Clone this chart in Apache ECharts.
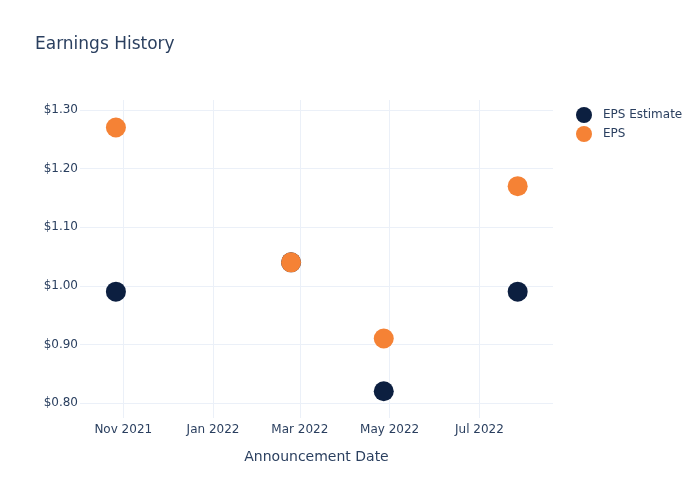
<!DOCTYPE html>
<html><head><meta charset="utf-8">
<script src="https://cdn.jsdelivr.net/npm/echarts@6/dist/echarts.min.js"></script>
<style>html,body{margin:0;padding:0;background:#fff}#c{width:700px;height:500px}</style>
</head><body><div id="c"></div>
<script>
const dates = ['2021-10-27', '2022-02-23', '2022-04-27', '2022-07-27'];
const epsEstimate = [0.99, 1.04, 0.82, 0.99];
const eps = [1.27, 1.04, 0.91, 1.17];
const xTicks = ['2021-11-01', '2022-01-01', '2022-03-01', '2022-05-01', '2022-07-01'];
const yTicks = [0.8, 0.9, 1.0, 1.1, 1.2, 1.3];
const monthNames = ['Jan','Feb','Mar','Apr','May','Jun','Jul','Aug','Sep','Oct','Nov','Dec'];

const ts = d => new Date(d + 'T00:00:00Z').getTime();
const xMin = ts('2021-10-02') + 0.6 * 86400000;
const xMax = ts('2022-08-20');
const xTickVals = xTicks.map(ts);
const font = 'DejaVu Sans, Verdana, sans-serif';
const txt = '#2a3f5f';
const grid = '#ebf0f8';

const chart = echarts.init(document.getElementById('c'), null, {renderer: 'canvas'});
chart.setOption({
  animation: false,
  backgroundColor: '#fff',
  title: {
    text: 'Earnings History', left: 30, top: 31,
    textStyle: {fontFamily: font, fontSize: 17, fontWeight: 'normal', color: txt}
  },
  legend: {
    orient: 'vertical', left: 571, top: 102, itemGap: 3,
    itemWidth: 16, itemHeight: 16, icon: 'circle',
    textStyle: {fontFamily: font, fontSize: 12, color: txt, padding: [0, 0, 0, 6]},
    data: ['EPS Estimate', 'EPS']
  },
  grid: {left: 80, right: 147, top: 100, bottom: 82, containLabel: false},
  xAxis: {
    type: 'value', min: xMin, max: xMax, scale: true,
    name: 'Announcement Date', nameLocation: 'middle', nameGap: 32,
    nameTextStyle: {fontFamily: font, fontSize: 14, color: txt},
    axisLine: {show: false}, axisTick: {show: false, customValues: xTickVals},
    axisLabel: {
      customValues: xTickVals, fontFamily: font, fontSize: 12, color: txt, margin: 6,
      formatter: v => { const d = new Date(v); return monthNames[d.getUTCMonth()] + ' ' + d.getUTCFullYear(); }
    },
    splitLine: {show: true, lineStyle: {color: grid, width: 1}}
  },
  yAxis: {
    type: 'value', min: 0.7744, max: 1.317,
    axisLine: {show: false}, axisTick: {show: false, customValues: yTicks},
    axisLabel: {
      customValues: yTicks, fontFamily: font, fontSize: 12, color: txt, margin: 2,
      formatter: v => '$' + v.toFixed(2)
    },
    splitLine: {show: true, lineStyle: {color: grid, width: 1}}
  },
  series: [
    {name: 'EPS Estimate', type: 'scatter', symbolSize: 20,
     itemStyle: {color: '#0c1f40', opacity: 1},
     data: dates.map((d, i) => [ts(d), epsEstimate[i]])},
    {name: 'EPS', type: 'scatter', symbolSize: 20,
     itemStyle: {color: '#f58235', opacity: 1},
     data: dates.map((d, i) => [ts(d), eps[i]])}
  ]
});
</script></body></html>
